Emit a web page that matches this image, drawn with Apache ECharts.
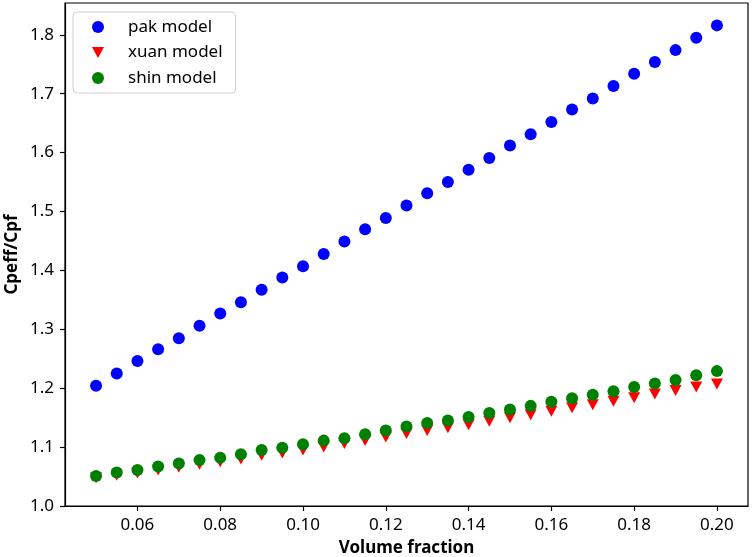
<!DOCTYPE html>
<html>
<head>
<meta charset="utf-8">
<script src="https://cdn.jsdelivr.net/npm/echarts@6/dist/echarts.min.js"></script>
<style>
  html, body { margin: 0; padding: 0; background: #fff; }
  #main { width: 754px; height: 557px; }
</style>
</head>
<body>
<div id="main"></div>
<script>
// 体积分数
var volumeFraction = [0.05, 0.055, 0.06, 0.065, 0.07, 0.075, 0.08, 0.085, 0.09, 0.095,
    0.10, 0.105, 0.11, 0.115, 0.12, 0.125, 0.13, 0.135, 0.14, 0.145,
    0.15, 0.155, 0.16, 0.165, 0.17, 0.175, 0.18, 0.185, 0.19, 0.195, 0.20];

var pakModel = [1.204, 1.225, 1.246, 1.266, 1.285, 1.306, 1.327, 1.346, 1.367, 1.388,
    1.407, 1.428, 1.449, 1.470, 1.489, 1.510, 1.531, 1.550, 1.571, 1.591,
    1.612, 1.631, 1.652, 1.673, 1.692, 1.713, 1.734, 1.754, 1.774, 1.795, 1.816];

var xuanModel = [1.048, 1.052, 1.056, 1.061, 1.066, 1.071, 1.075, 1.080, 1.086, 1.090,
    1.095, 1.100, 1.106, 1.111, 1.117, 1.123, 1.128, 1.133, 1.138, 1.144,
    1.150, 1.155, 1.161, 1.167, 1.172, 1.178, 1.184, 1.190, 1.196, 1.202, 1.207];

var shinModel = [1.051, 1.057, 1.061, 1.067, 1.072, 1.078, 1.082, 1.088, 1.095, 1.099,
    1.105, 1.111, 1.115, 1.122, 1.128, 1.135, 1.141, 1.145, 1.151, 1.158,
    1.164, 1.170, 1.177, 1.183, 1.189, 1.195, 1.202, 1.208, 1.214, 1.222, 1.229];

var xTicks = [0.06, 0.08, 0.10, 0.12, 0.14, 0.16, 0.18, 0.20];
var yTicks = [1.0, 1.1, 1.2, 1.3, 1.4, 1.5, 1.6, 1.7, 1.8];

var FONT = 'Noto Sans';
var downTriangle = 'path://M0,0 L12,0 L6,11 Z';

function pairs(ys) {
    return volumeFraction.map(function (x, i) { return [x, ys[i]]; });
}

var chart = echarts.init(document.getElementById('main'), null, { renderer: 'canvas' });

var axisCommon = {
    axisLine: { show: true, onZero: false, lineStyle: { color: '#000', width: 1.2 } },
    axisTick: { show: true, inside: false, length: 5, lineStyle: { color: '#000', width: 1.2 } },
    splitLine: { show: false },
    nameMoveOverlap: false,
    nameTextStyle: { fontFamily: FONT, fontSize: 17, fontWeight: 'bold', color: '#000' }
};

chart.setOption({
    backgroundColor: '#fff',
    animation: false,
    grid: {
        left: 65, right: 6, top: 3, bottom: 51,
        outerBoundsMode: 'none',
        show: true, borderColor: '#000', borderWidth: 1.2, backgroundColor: 'transparent'
    },
    legend: {
        orient: 'vertical',
        left: 73,
        top: 12,
        padding: [6, 13, 6, 19],
        itemGap: 7.5,
        itemWidth: 12,
        itemHeight: 12,
        borderColor: '#d0d0d0',
        borderWidth: 1,
        borderRadius: 4,
        backgroundColor: 'rgba(255,255,255,0.8)',
        textStyle: { fontFamily: FONT, fontSize: 17, color: '#000', lineHeight: 18, padding: [0, 0, 0, 19] },
        data: [
            { name: 'pak model', icon: 'circle' },
            { name: 'xuan model', icon: downTriangle },
            { name: 'shin model', icon: 'circle' }
        ]
    },
    xAxis: Object.assign({}, axisCommon, {
        type: 'value',
        min: 0.0425,
        max: 0.2075,
        name: 'Volume fraction',
        nameLocation: 'middle',
        nameGap: 34,
        axisTick: Object.assign({}, axisCommon.axisTick, { customValues: xTicks }),
        axisLabel: {
            customValues: xTicks,
            margin: 11,
            fontFamily: FONT, fontSize: 17, color: '#000',
            formatter: function (v) { return v.toFixed(2); }
        }
    }),
    yAxis: Object.assign({}, axisCommon, {
        type: 'value',
        min: 1.0,
        max: 1.854,
        name: 'Cpeff/Cpf',
        nameLocation: 'middle',
        nameGap: 44,
        axisTick: Object.assign({}, axisCommon.axisTick, { customValues: yTicks }),
        axisLabel: {
            customValues: yTicks,
            margin: 11,
            fontFamily: FONT, fontSize: 17, color: '#000',
            formatter: function (v) { return v.toFixed(1); }
        }
    }),
    series: [
        {
            name: 'pak model',
            type: 'scatter',
            symbol: 'circle',
            symbolSize: 12,
            itemStyle: { color: '#0000ff', opacity: 1 },
            data: pairs(pakModel)
        },
        {
            name: 'xuan model',
            type: 'scatter',
            symbol: downTriangle,
            symbolSize: [12, 11],
            itemStyle: { color: '#ff0000', opacity: 1 },
            data: pairs(xuanModel)
        },
        {
            name: 'shin model',
            type: 'scatter',
            symbol: 'circle',
            symbolSize: 12,
            itemStyle: { color: '#008000', opacity: 1 },
            data: pairs(shinModel)
        }
    ]
});
</script>
</body>
</html>
